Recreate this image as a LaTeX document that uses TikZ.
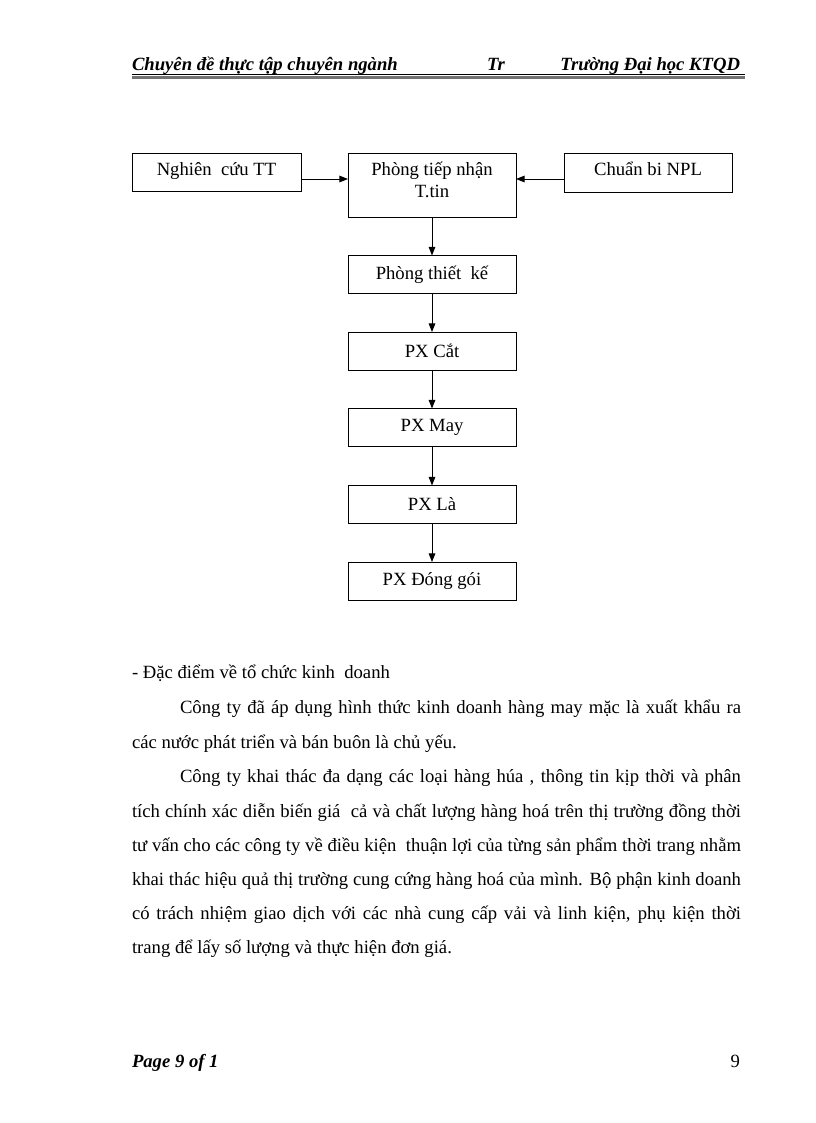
\documentclass[tikz,border=0pt]{standalone}
\usepackage{fontspec}
\setmainfont{Liberation Serif}
\usetikzlibrary{arrows.meta}
\begin{document}
\begin{tikzpicture}[x=0.75pt,y=-0.75pt,
  every node/.style={inner sep=0pt,outer sep=0pt},
  box/.style={draw,line width=0.7pt,minimum width=126pt,minimum height=28.5pt,
    font=\fontsize{14}{16.5}\selectfont,align=center},
  arr/.style={line width=0.7pt,-{Triangle[length=6.5pt,width=5pt]}},
  hd/.style={font=\fontsize{14}{16}\selectfont\bfseries\itshape},
  body/.style={font=\fontsize{14}{16}\selectfont}]
\fill[white] (0,0) rectangle (816,1123);
\useasboundingbox (0,0) rectangle (816,1123);
% header
\node[hd,anchor=base west] (h1) at (132,71) {Chuyên đề thực tập chuyên ngành};
\node[hd,anchor=base west] (h2) at (487,71) {Tr};
\node[hd,anchor=base east] (h3) at (740,71) {Trường Đại học KTQD};
\coordinate (hl1) at (132,74.5);
\coordinate (hr1) at (745,74.5);
\coordinate (hl2) at (132,77.2);
\coordinate (hr2) at (745,77.2);
\draw[line width=0.8pt] (hl1) -- (hr1);
\draw[line width=2pt,black!55] (hl2) -- (hr2);
% diagram
\node[box,minimum width=126.75pt] (nc) at (216.5,172) {Nghiên\ \ cứu TT\rule[-5pt]{0pt}{1pt}};
\node[box,minimum height=48pt] (ptn) at (432,185) {Phòng tiếp nhận\\T.tin\rule[-8pt]{0pt}{1pt}};
\node[box,minimum height=29.25pt] (cb) at (648,172.5) {Chuẩn bi NPL\rule[-5pt]{0pt}{1pt}};
\node[box] (ptk) at (432,274.5) {Phòng thiết\ \ kế};
\node[box] (cat) at (432,351) {PX Cắt};
\node[box] (may) at (432,427.5) {PX May};
\node[box] (la) at (432,504.5) {PX Là};
\node[box] (dg) at (432,581) {PX Đóng gói};
\draw[arr] (nc.east |- 0,179) -- (ptn.west |- 0,179);
\draw[arr] (cb.west |- 0,179) -- (ptn.east |- 0,179);
\draw[arr] (ptn) -- (ptk);
\draw[arr] (ptk) -- (cat);
\draw[arr] (cat) -- (may);
\draw[arr] (may) -- (la);
\draw[arr] (la) -- (dg);
% body text
\node[body,anchor=base west] (t1) at (132,678) {- Đặc điểm về tổ chức kinh\ \ doanh};
\node[body,anchor=base west] (t2) at (180,713) {\makebox[420.75pt][s]{Công ty đã áp dụng hình thức kinh doanh hàng may mặc là xuất khẩu ra}};
\node[body,anchor=base west] (t3) at (132,748) {các nước phát triển và bán buôn là chủ yếu.};
\node[body,anchor=base west] (t4) at (180,782) {\makebox[420.75pt][s]{Công ty khai thác đa dạng các loại hàng húa , thông tin kịp thời và phân}};
\node[body,anchor=base west] (t5) at (132,817) {\makebox[456.75pt][s]{tích chính xác diễn biến giá\ \ cả và chất lượng hàng hoá trên thị trường đồng thời}};
\node[body,anchor=base west] (t6) at (132,851) {\makebox[456.75pt][s]{tư vấn cho các công ty về điều kiện\ \ thuận lợi của từng sản phẩm thời trang nhằm}};
\node[body,anchor=base west] (t7) at (132,885) {\makebox[456.75pt][s]{khai thác hiệu quả thị trường cung cứng hàng hoá của mình. Bộ phận kinh doanh}};
\node[body,anchor=base west] (t8) at (132,919) {\makebox[456.75pt][s]{có trách nhiệm giao dịch với các nhà cung cấp vải và linh kiện, phụ kiện thời}};
\node[body,anchor=base west] (t9) at (132,953) {trang để lấy số lượng và thực hiện đơn giá.};
% footer
\node[hd,anchor=base west] (f1) at (132,1067) {Page 9 of 1};
\node[body,anchor=base east] (f2) at (740,1067) {9};
\end{tikzpicture}
\end{document}
